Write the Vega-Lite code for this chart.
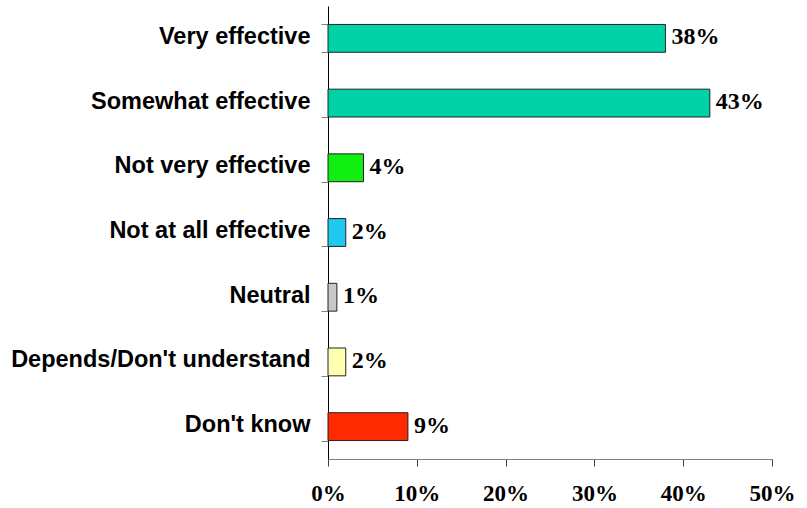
{
  "$schema": "https://vega.github.io/schema/vega-lite/v6.json",
  "width": 444,
  "height": 453,
  "autosize": "none",
  "padding": {"left": 328, "top": 6, "right": 35, "bottom": 49},
  "background": "white",
  "config": {"view": {"stroke": null}},
  "data": {
    "values": [
      {"response": "Very effective", "pct": 38, "label": "38%"},
      {"response": "Somewhat effective", "pct": 43, "label": "43%"},
      {"response": "Not very effective", "pct": 4, "label": "4%"},
      {"response": "Not at all effective", "pct": 2, "label": "2%"},
      {"response": "Neutral", "pct": 1, "label": "1%"},
      {"response": "Depends/Don't understand", "pct": 2, "label": "2%"},
      {"response": "Don't know", "pct": 9, "label": "9%"}
    ]
  },
  "encoding": {
    "y": {
      "field": "response",
      "type": "nominal",
      "sort": null,
      "scale": {"paddingInner": 0.57, "paddingOuter": 0.285},
      "axis": {
        "title": null,
        "domainColor": "#000000",
        "domainWidth": 1,
        "tickColor": "#808080",
        "tickSize": 7,
        "tickBand": "extent",
        "labelFont": "Liberation Sans",
        "labelFontWeight": "bold",
        "labelFontSize": 23.5,
        "labelColor": "#000000",
        "labelPadding": 11,
        "labelLimit": 0,
        "labelOffset": -2
      }
    }
  },
  "layer": [
    {
      "mark": {"type": "bar", "stroke": "#222222", "strokeWidth": 1},
      "encoding": {
        "x": {
          "field": "pct",
          "type": "quantitative",
          "scale": {"domain": [0, 50], "nice": false},
          "axis": {
            "title": null,
            "values": [0, 10, 20, 30, 40, 50],
            "labelExpr": "datum.value + '%'",
            "grid": false,
            "domainColor": "#808080",
            "tickColor": "#404040",
            "tickSize": 7,
            "labelFont": "Liberation Serif",
            "labelFontWeight": "bold",
            "labelFontSize": 23,
            "labelColor": "#000000",
            "labelPadding": 16,
            "labelFlush": false
          }
        },
        "color": {
          "field": "response",
          "type": "nominal",
          "legend": null,
          "scale": {
            "domain": ["Very effective", "Somewhat effective", "Not very effective", "Not at all effective", "Neutral", "Depends/Don't understand", "Don't know"],
            "range": ["#00D2A8", "#00D2A8", "#11EE11", "#1EC8F0", "#C8C8C8", "#FFFFB0", "#FF2A00"]
          }
        }
      }
    },
    {
      "mark": {
        "type": "text",
        "align": "left",
        "baseline": "middle",
        "dx": 6,
        "dy": -1,
        "font": "Liberation Serif",
        "fontWeight": "bold",
        "fontSize": 24,
        "color": "#000000"
      },
      "encoding": {
        "x": {"field": "pct", "type": "quantitative"},
        "text": {"field": "label"}
      }
    }
  ]
}
